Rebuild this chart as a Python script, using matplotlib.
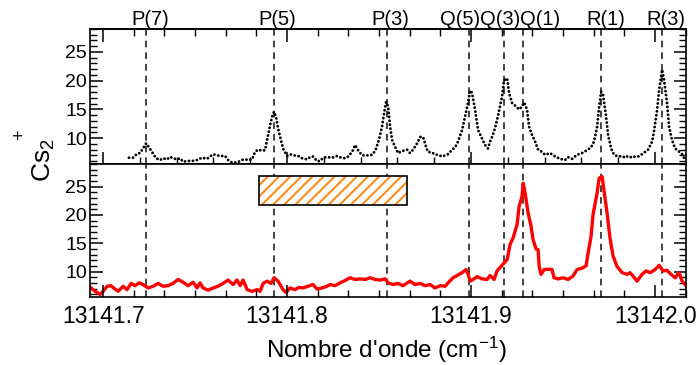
import numpy as np
import matplotlib
matplotlib.use("Agg")
import matplotlib.pyplot as plt
from matplotlib.ticker import MultipleLocator, FormatStrFormatter
from matplotlib.patches import Rectangle
import matplotlib.transforms as mtransforms

plt.rcParams['font.family'] = ['Liberation Sans', 'DejaVu Sans']
plt.rcParams['mathtext.fontset'] = 'custom'
plt.rcParams['mathtext.rm'] = 'Liberation Sans'
plt.rcParams['mathtext.it'] = 'Liberation Sans'
plt.rcParams['hatch.linewidth'] = 1.5

# raies attribuees (position de la raie, position de l'etiquette)
raies_nom = ['P(7)', 'P(5)', 'P(3)', 'Q(5)', 'Q(3)', 'Q(1)', 'R(1)', 'R(3)']
raies_pos = [13141.7234, 13141.7929, 13141.8543, 13141.8989,
             13141.9179, 13141.9283, 13141.9707, 13142.0038]
etiq_pos = [13141.7255, 13141.7946, 13141.8560, 13141.8940,
            13141.9158, 13141.9375, 13141.9734, 13142.0060]

# spectre du haut (pointille)
haut_x = [13141.7141, 13141.7163, 13141.7185, 13141.7201, 13141.7217, 13141.7234, 13141.7250,
          13141.7272, 13141.7288, 13141.7310, 13141.7326, 13141.7348, 13141.7364, 13141.7380,
          13141.7402, 13141.7418, 13141.7435, 13141.7457, 13141.7473, 13141.7489, 13141.7511,
          13141.7538, 13141.7565, 13141.7582, 13141.7598, 13141.7620, 13141.7636, 13141.7663,
          13141.7679, 13141.7701, 13141.7728, 13141.7755, 13141.7772, 13141.7788, 13141.7810,
          13141.7826, 13141.7842, 13141.7864, 13141.7880, 13141.7891, 13141.7908, 13141.7918,
          13141.7929, 13141.7940, 13141.7951, 13141.7967, 13141.7978, 13141.8000, 13141.8016,
          13141.8038, 13141.8060, 13141.8082, 13141.8109, 13141.8125, 13141.8141, 13141.8163,
          13141.8179, 13141.8196, 13141.8217, 13141.8245, 13141.8272, 13141.8293, 13141.8315,
          13141.8332, 13141.8353, 13141.8370, 13141.8386, 13141.8408, 13141.8429, 13141.8451,
          13141.8467, 13141.8484, 13141.8500, 13141.8516, 13141.8527, 13141.8538, 13141.8549,
          13141.8560, 13141.8571, 13141.8587, 13141.8603, 13141.8630, 13141.8652, 13141.8668,
          13141.8685, 13141.8707, 13141.8723, 13141.8739, 13141.8755, 13141.8766, 13141.8788,
          13141.8804, 13141.8821, 13141.8842, 13141.8859, 13141.8875, 13141.8897, 13141.8913,
          13141.8929, 13141.8951, 13141.8967, 13141.8984, 13141.8995, 13141.9005, 13141.9022,
          13141.9038, 13141.9060, 13141.9076, 13141.9092, 13141.9103, 13141.9114, 13141.9130,
          13141.9147, 13141.9168, 13141.9179, 13141.9196, 13141.9207, 13141.9223, 13141.9245,
          13141.9261, 13141.9277, 13141.9288, 13141.9304, 13141.9315, 13141.9332, 13141.9348,
          13141.9364, 13141.9386, 13141.9402, 13141.9429, 13141.9457, 13141.9484, 13141.9511,
          13141.9527, 13141.9549, 13141.9576, 13141.9603, 13141.9630, 13141.9652, 13141.9668,
          13141.9685, 13141.9696, 13141.9707, 13141.9717, 13141.9734, 13141.9745, 13141.9761,
          13141.9777, 13141.9799, 13141.9821, 13141.9837, 13141.9853, 13141.9875, 13141.9891,
          13141.9908, 13141.9929, 13141.9946, 13141.9962, 13141.9984, 13141.9995, 13142.0011,
          13142.0022, 13142.0038, 13142.0049, 13142.0065, 13142.0076, 13142.0092, 13142.0109,
          13142.0125, 13142.0147, 13142.0163]
haut_y = [6.6, 6.6, 7.3, 7.4, 8.2, 9.1, 8.4,
          7.3, 6.5, 6.2, 6.5, 6.3, 6.75, 6.5,
          6.3, 6.5, 5.9, 6.0, 6.05, 6.05, 6.2,
          6.6, 6.4, 6.8, 7.2, 7.0, 6.9, 6.9,
          6.2, 5.75, 5.75, 6.2, 6.3, 6.2, 6.3,
          7.6, 8.0, 7.8, 7.9, 9.65, 12.3, 13.7,
          14.6, 13.7, 11.7, 9.65, 8.2, 6.9, 7.2,
          7.0, 6.9, 6.5, 6.3, 6.7, 6.8, 6.0,
          6.0, 6.6, 6.7, 6.6, 6.9, 6.6, 6.5,
          6.8, 7.6, 8.8, 7.9, 7.0, 7.0, 7.0,
          7.2, 8.2, 9.8, 12.0, 14.3, 16.3, 15.5,
          12.0, 9.65, 8.5, 7.4, 7.8, 8.0, 7.4,
          8.0, 9.1, 10.2, 10.2, 8.5, 7.6, 7.5,
          7.15, 7.1, 6.8, 7.0, 7.2, 8.0, 8.4,
          9.4, 11.4, 13.7, 16.3, 18.3, 17.9, 14.9,
          11.4, 9.9, 8.8, 8.2, 9.4, 10.2, 11.7,
          14.0, 17.2, 20.1, 20.4, 17.8, 16.1, 15.5,
          15.0, 15.5, 16.2, 15.0, 12.0, 10.5, 9.4,
          8.0, 7.6, 7.1, 7.4, 6.8, 6.4, 6.2,
          6.7, 6.4, 7.1, 7.4, 7.9, 8.4, 9.4,
          12.0, 15.5, 18.1, 17.5, 13.7, 10.5, 8.2,
          7.1, 6.8, 6.9, 6.6, 6.9, 6.6, 6.8,
          6.8, 7.2, 7.6, 8.0, 9.4, 11.4, 14.9,
          18.4, 21.9, 20.1, 16.1, 12.0, 9.65, 8.2,
          7.8, 7.2, 6.2]

# spectre du bas (rouge)
bas_x = [13141.6935, 13141.6957, 13141.6984, 13141.7000, 13141.7022, 13141.7043, 13141.7065,
         13141.7082, 13141.7109, 13141.7130, 13141.7152, 13141.7174, 13141.7196, 13141.7217,
         13141.7245, 13141.7272, 13141.7299, 13141.7326, 13141.7353, 13141.7380, 13141.7408,
         13141.7435, 13141.7462, 13141.7489, 13141.7511, 13141.7527, 13141.7543, 13141.7571,
         13141.7598, 13141.7625, 13141.7652, 13141.7679, 13141.7707, 13141.7728, 13141.7745,
         13141.7761, 13141.7783, 13141.7810, 13141.7837, 13141.7853, 13141.7870, 13141.7891,
         13141.7913, 13141.7929, 13141.7951, 13141.7978, 13141.7995, 13141.8016, 13141.8043,
         13141.8065, 13141.8087, 13141.8114, 13141.8141, 13141.8163, 13141.8190, 13141.8217,
         13141.8234, 13141.8261, 13141.8288, 13141.8315, 13141.8342, 13141.8370, 13141.8397,
         13141.8424, 13141.8451, 13141.8478, 13141.8505, 13141.8533, 13141.8549, 13141.8576,
         13141.8603, 13141.8630, 13141.8668, 13141.8696, 13141.8723, 13141.8750, 13141.8777,
         13141.8804, 13141.8832, 13141.8859, 13141.8875, 13141.8902, 13141.8924, 13141.8951,
         13141.8973, 13141.8984, 13141.8995, 13141.9011, 13141.9033, 13141.9060, 13141.9087,
         13141.9103, 13141.9125, 13141.9141, 13141.9168, 13141.9196, 13141.9212, 13141.9228,
         13141.9250, 13141.9261, 13141.9277, 13141.9283, 13141.9293, 13141.9310, 13141.9326,
         13141.9337, 13141.9353, 13141.9364, 13141.9370, 13141.9380, 13141.9397, 13141.9418,
         13141.9440, 13141.9451, 13141.9473, 13141.9500, 13141.9527, 13141.9554, 13141.9576,
         13141.9603, 13141.9625, 13141.9636, 13141.9652, 13141.9663, 13141.9685, 13141.9696,
         13141.9712, 13141.9723, 13141.9739, 13141.9755, 13141.9772, 13141.9793, 13141.9821,
         13141.9848, 13141.9864, 13141.9880, 13141.9902, 13141.9929, 13141.9951, 13141.9973,
         13142.0000, 13142.0022, 13142.0043, 13142.0065, 13142.0087, 13142.0109, 13142.0130,
         13142.0147, 13142.0168]
bas_y = [7.1, 6.5, 5.95, 6.5, 7.4, 7.5, 6.9,
         6.5, 7.4, 6.8, 7.9, 7.5, 8.0, 7.7,
         7.1, 7.4, 7.9, 7.4, 7.5, 7.9, 8.6,
         8.1, 7.5, 8.1, 7.1, 8.0, 7.1, 6.7,
         7.1, 7.4, 7.9, 8.5, 7.7, 8.5, 7.5,
         8.5, 6.8, 6.5, 6.8, 6.5, 7.9, 8.3,
         7.9, 8.9, 8.3, 6.8, 6.3, 7.1, 6.8,
         7.2, 7.1, 7.4, 7.7, 6.9, 7.1, 7.4,
         7.7, 7.5, 8.0, 8.4, 8.9, 8.6, 8.7,
         8.6, 8.9, 8.6, 8.5, 8.7, 8.0, 7.7,
         7.9, 7.5, 8.3, 7.7, 7.9, 7.5, 7.7,
         7.1, 7.5, 7.4, 8.0, 8.9, 9.3, 9.8,
         10.35, 9.5, 8.3, 8.6, 9.1, 8.7, 8.6,
         9.3, 8.6, 10.1, 11.1, 12.1, 14.8, 15.9,
         18.3, 21.5, 23.3, 25.6, 24.0, 20.35, 18.0,
         15.6, 14.0, 13.9, 10.9, 9.5, 10.35, 10.4,
         10.35, 8.9, 8.7, 8.9, 8.6, 9.2, 10.35,
         10.6, 11.0, 13.3, 16.2, 20.1, 23.9, 26.5,
         26.8, 24.2, 20.35, 15.9, 12.7, 10.9, 9.8,
         9.5, 9.8, 9.2, 8.3, 9.5, 10.1, 9.8,
         10.35, 11.1, 10.1, 10.2, 9.5, 8.9, 9.8,
         8.3, 7.5]

# zone hachuree
zone_x = (13141.7848, 13141.8652)
zone_y = (21.8, 26.8)

W, H = 696, 365
fig = plt.figure(figsize=(W / 100, H / 100), dpi=100)
gauche, droite = 90 / W, 686 / W
ax_h = fig.add_axes([gauche, 1 - 164 / H, droite - gauche, 135 / H])
ax_b = fig.add_axes([gauche, 1 - 297 / H, droite - gauche, 133 / H], sharex=ax_h)

xmin, xmax = 13141.6929, 13142.0168
ymin, ymax = 5.5, 29.0

# trait pointille : points regulierement espaces le long de la courbe
ax_h.plot(haut_x, haut_y, color='black', lw=2.1, linestyle=(0, (0.01, 1.35)),
          dash_capstyle='round')
ax_b.plot(bas_x, bas_y, color='red', lw=2.4, solid_joinstyle='round')

for ax in (ax_h, ax_b):
    for p in raies_pos:
        ax.axvline(p, color='#222222', lw=1.2, dashes=(4, 3), zorder=0)
    ax.set_xlim(xmin, xmax)
    ax.set_ylim(ymin, ymax)
    ax.yaxis.set_major_locator(MultipleLocator(5))
    ax.yaxis.set_minor_locator(MultipleLocator(1))
    ax.tick_params(axis='y', which='both', direction='in', left=True, right=True,
                   labelsize=14, pad=2)
    ax.tick_params(axis='y', which='major', length=9, width=1.1)
    ax.tick_params(axis='y', which='minor', length=5, width=1.0)
    for s in ax.spines.values():
        s.set_linewidth(1.2)

# panneau du haut : graduations du bas tous les 0.02
ax_h.xaxis.set_major_locator(MultipleLocator(0.1))
ax_h.xaxis.set_minor_locator(MultipleLocator(0.02))
ax_h.tick_params(axis='x', which='both', direction='in', bottom=True, top=False,
                 labelbottom=False)
ax_h.tick_params(axis='x', which='major', length=9, width=1.1)
ax_h.tick_params(axis='x', which='minor', length=5, width=1.0)

# axe du haut avec ses propres graduations
sec = ax_h.secondary_xaxis('top')
sec.xaxis.set_major_locator(MultipleLocator(0.1))
sec.xaxis.set_minor_locator(MultipleLocator(0.1 / 6))
sec.tick_params(axis='x', which='both', direction='in', labeltop=False)
sec.tick_params(axis='x', which='major', length=9, width=1.1)
sec.tick_params(axis='x', which='minor', length=5, width=1.0)
sec.spines['top'].set_linewidth(1.2)

# panneau du bas
ax_b2 = ax_b.twiny()
ax_b2.set_xlim(xmin, xmax)
ax_b2.xaxis.set_ticks_position('bottom')
ax_b2.xaxis.set_label_position('bottom')
ax_b2.xaxis.set_major_locator(MultipleLocator(0.1))
ax_b2.xaxis.set_minor_locator(MultipleLocator(0.1 / 6))
ax_b2.xaxis.set_major_formatter(FormatStrFormatter('%.1f'))
ax_b2.tick_params(axis='x', which='both', direction='in', labelsize=16.5, pad=6,
                  top=False, labeltop=False)
ax_b2.tick_params(axis='x', which='major', length=9, width=1.1)
ax_b2.tick_params(axis='x', which='minor', length=5, width=1.0)
for s in ax_b2.spines.values():
    s.set_visible(False)
ax_b.tick_params(axis='x', which='both', bottom=False, top=False, labelbottom=False)

ax_b.add_patch(Rectangle((zone_x[0], zone_y[0]), zone_x[1] - zone_x[0], zone_y[1] - zone_y[0],
                         facecolor='white', edgecolor='#ff8c1a', hatch='///', lw=0, zorder=3))
ax_b.add_patch(Rectangle((zone_x[0], zone_y[0]), zone_x[1] - zone_x[0], zone_y[1] - zone_y[0],
                         fill=False, edgecolor='black', lw=1.2, zorder=4))

trans = mtransforms.blended_transform_factory(ax_h.transData, ax_h.transAxes)
for nom, p in zip(raies_nom, etiq_pos):
    ax_h.text(p, 1.0, nom, transform=trans, ha='center', va='bottom', fontsize=14.5)

fig.text(386 / W, 1 - 350 / H, "Nombre d'onde (cm$^{-1}$)", ha='center', va='center',
         fontsize=17.5)
fig.text(44 / W, 1 - 160 / H, 'Cs$_2$', rotation=90, ha='center', va='center', fontsize=19)
fig.text(20 / W, 1 - 135 / H, '+', rotation=90, ha='center', va='center', fontsize=13)

fig.savefig('out.png', dpi=100)
